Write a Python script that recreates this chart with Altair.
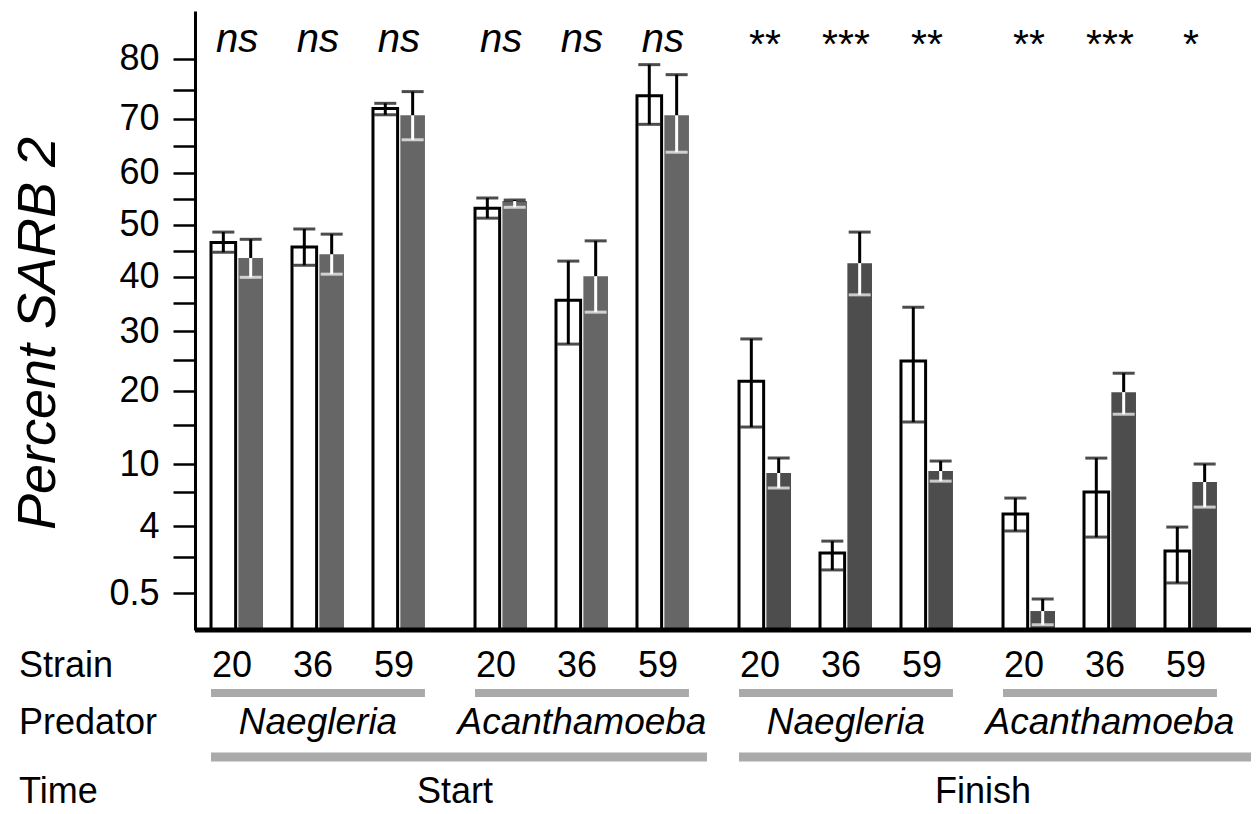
import math
import altair as alt
import pandas as pd

# ---------------- data ----------------
times = ["Start"] * 6 + ["Finish"] * 6
predators = (["Naegleria"] * 3 + ["Acanthamoeba"] * 3) * 2
strains = ["20", "36", "59"] * 4
strain_levels = ["20", "36", "59"]
significance = ["ns", "ns", "ns", "ns", "ns", "ns", "**", "***", "**", "**", "***", "*"]

# percent SARB 2 (white = first bar, gray = second bar) with error limits
white_mean = [46.6, 45.7, 71.8, 53.2, 35.6, 74.0, 21.5, 2.21, 24.8, 4.97, 6.98, 2.33]
white_low = [44.7, 42.2, 70.7, 51.3, 27.7, 69.0, 14.7, 1.35, 15.4, 3.64, 3.21, 0.83]
white_high = [48.6, 49.2, 72.7, 55.2, 43.0, 79.1, 28.6, 2.94, 34.3, 6.40, 10.7, 3.93]
gray_mean = [43.6, 44.3, 70.6, 54.6, 40.1, 70.6, 8.98, 42.6, 9.20, 0.135, 19.8, 8.00]
gray_low = [39.9, 40.5, 66.2, 53.4, 33.4, 63.9, 7.40, 36.6, 8.10, 0.01, 16.5, 5.57]
gray_high = [47.2, 48.2, 74.7, 54.8, 46.9, 77.5, 10.7, 48.6, 10.35, 0.36, 22.8, 10.0]

tick_labels = [0.5, 4, 10, 20, 30, 40, 50, 60, 70, 80]
minor_ticks = [2, 7, 15, 25, 35, 45, 55, 65, 75]
row_titles = ["Strain", "Predator", "Time"]
y_title = "Percent SARB 2"

time_levels = ["Start", "Finish"]
predator_levels = ["Naegleria", "Acanthamoeba"]
panel_order = [f"{t} {p}" for t in time_levels for p in predator_levels]

rows = []
for i in range(12):
    for typ, m, lo, hi in (("white", white_mean, white_low, white_high),
                           ("gray", gray_mean, gray_low, gray_high)):
        rows.append({
            "time": times[i], "predator": predators[i], "strain": strains[i],
            "panel": f"{times[i]} {predators[i]}", "type": typ,
            "mean": m[i], "low": lo[i], "high": hi[i], "sig": significance[i],
        })
df = pd.DataFrame(rows)

# ---------------- layout ----------------
W = 264
H = 619
FONT = "Liberation Sans"

def asin_sqrt(p):
    return math.asin(math.sqrt(p / 100.0))

tick_values = sorted(asin_sqrt(v) for v in tick_labels + minor_ticks)
lab_list = "[" + ",".join(str(v) for v in tick_labels) + "]"
pexpr = "round(pow(sin(datum.value),2)*1000)/10"
label_expr = f"indexof({lab_list}, {pexpr}) >= 0 ? {pexpr} : ''"

y_axis = alt.Axis(
    values=tick_values, labelExpr=label_expr, title=y_title,
    titleFontStyle="italic", titleFontWeight="normal", titleFontSize=54,
    titleFont=FONT, titleColor="black", titlePadding=43, titleY=322,
    labelFont=FONT, labelFontSize=36, labelColor="black", labelPadding=14,
    tickSize=22, tickWidth=2.5, tickColor="black",
    domainWidth=3, domainColor="black", grid=False,
)
y_scale = alt.Scale(domain=[0, 1.2], nice=False, zero=True)

x_scale = alt.Scale(paddingInner=0.358, paddingOuter=0.309, align=0.32)

def X(**kw):
    return alt.X("strain:N", sort=strain_levels, scale=x_scale, axis=None, **kw)

xo = alt.XOffset("type:N", sort=["white", "gray"],
                 scale=alt.Scale(paddingInner=0.1, paddingOuter=0))

def Y(field):
    return alt.Y(f"{field}:Q", scale=y_scale, axis=y_axis)

base = alt.Chart()

bars = base.mark_bar(strokeWidth=3).encode(
    x=X(), xOffset=xo, y=Y("tm"),
    fill=alt.Fill("shade:N", scale=alt.Scale(domain=["white", "Start", "Finish"],
                                            range=["#ffffff", "#666666", "#4d4d4d"]),
                  legend=None),
    stroke=alt.condition("datum.type == 'white'", alt.value("black"), alt.value("transparent")),
)

up_rule = base.mark_rule(strokeWidth=3, color="black").encode(
    x=X(), xOffset=xo, y=Y("tm"), y2="th:Q")
up_cap = base.mark_tick(thickness=3, size=22, color="black").encode(
    x=X(), xOffset=xo, y=Y("th"))
low_color = alt.condition("datum.type == 'white'", alt.value("black"), alt.value("white"))
low_rule = base.mark_rule(strokeWidth=3).encode(
    x=X(), xOffset=xo, y=Y("tl"), y2="tm:Q", color=low_color)
low_cap = base.mark_tick(thickness=3, size=22).encode(
    x=X(), xOffset=xo, y=Y("tl"), color=low_color)

first_row = f"datum.type == 'white' && datum.strain == '{strain_levels[0]}'"
mid_row = f"datum.type == 'white' && datum.strain == '{strain_levels[1]}'"

baseline = base.mark_rule(strokeWidth=5, color="black").encode(
    x=alt.value(0), x2=alt.value(W), y=alt.value(H)
).transform_filter(first_row)

sig_ns = base.mark_text(font=FONT, fontSize=40, fontStyle="italic", baseline="alphabetic",
                        color="black").encode(
    x=X(), y=alt.value(41), text="sig:N"
).transform_filter("datum.type == 'white' && datum.sig == 'ns'")
sig_star = base.mark_text(font=FONT, fontSize=41, baseline="alphabetic",
                          color="black").encode(
    x=X(), y=alt.value(47), text="sig:N"
).transform_filter("datum.type == 'white' && datum.sig != 'ns'")

strain_text = base.mark_text(font=FONT, fontSize=36, align="left", baseline="middle",
                             color="black", dx=1).encode(
    x=X(bandPosition=0), y=alt.value(655), text="strain:N"
).transform_filter("datum.type == 'white'")

strain_line = base.mark_rule(strokeWidth=8, color="#aaaaaa").encode(
    x=X(bandPosition=0),
    x2=alt.X2(datum=strain_levels[-1], bandPosition=1),
    y=alt.value(682),
).transform_filter(first_row)

pred_text = base.mark_text(font=FONT, fontSize=37, fontStyle="italic", baseline="middle",
                           color="black").encode(
    x=X(), y=alt.value(712), text="predator:N"
).transform_filter(mid_row)

time_line_a = base.mark_rule(strokeWidth=9, color="#aaaaaa").encode(
    x=X(bandPosition=0), x2=alt.value(W), y=alt.value(746)
).transform_filter(first_row + f" && datum.predator == '{predator_levels[0]}'")
time_line_b_start = base.mark_rule(strokeWidth=9, color="#aaaaaa").encode(
    x=alt.value(0), x2=alt.value(W - 16), y=alt.value(746)
).transform_filter(first_row + f" && datum.panel == '{panel_order[1]}'")
time_line_b_finish = base.mark_rule(strokeWidth=9, color="#aaaaaa").encode(
    x=alt.value(0), x2=alt.value(W), y=alt.value(746)
).transform_filter(first_row + f" && datum.panel == '{panel_order[3]}'")

TIME_Y = 781
time_text = base.mark_text(font=FONT, fontSize=36, baseline="middle", color="black").encode(
    x=alt.value(W - 4), y=alt.value(TIME_Y), text="time:N"
).transform_filter(first_row + f" && datum.predator == '{predator_levels[0]}'")

panel0 = first_row + f" && datum.panel == '{panel_order[0]}'"
row_layers = []
for title, ypos in zip(row_titles, [655, 712, TIME_Y]):
    row_layers.append(
        base.mark_text(font=FONT, fontSize=36, align="left", baseline="middle",
                       color="black").encode(
            x=alt.value(-176), y=alt.value(ypos), text=alt.value(title)
        ).transform_filter(panel0)
    )

layered = alt.layer(
    bars, up_rule, up_cap, low_rule, low_cap, baseline, sig_ns, sig_star,
    strain_text, strain_line, pred_text, time_line_a, time_line_b_start,
    time_line_b_finish, time_text, *row_layers, data=df,
).transform_calculate(
    tm="asin(sqrt(datum.mean/100))",
    tl="asin(sqrt(datum.low/100))",
    th="asin(sqrt(datum.high/100))",
    shade="datum.type == 'white' ? 'white' : datum.time",
).properties(width=W, height=H)

chart = layered.facet(
    column=alt.Column("panel:N", sort=panel_order,
                      header=alt.Header(title=None, labels=False)),
    spacing=0, bounds="flush",
).configure_view(stroke=None).properties(
    padding={"left": 11, "top": 11, "right": 0, "bottom": 0}
)

chart.save("out.html", embed_options={"renderer": "svg", "actions": False})
